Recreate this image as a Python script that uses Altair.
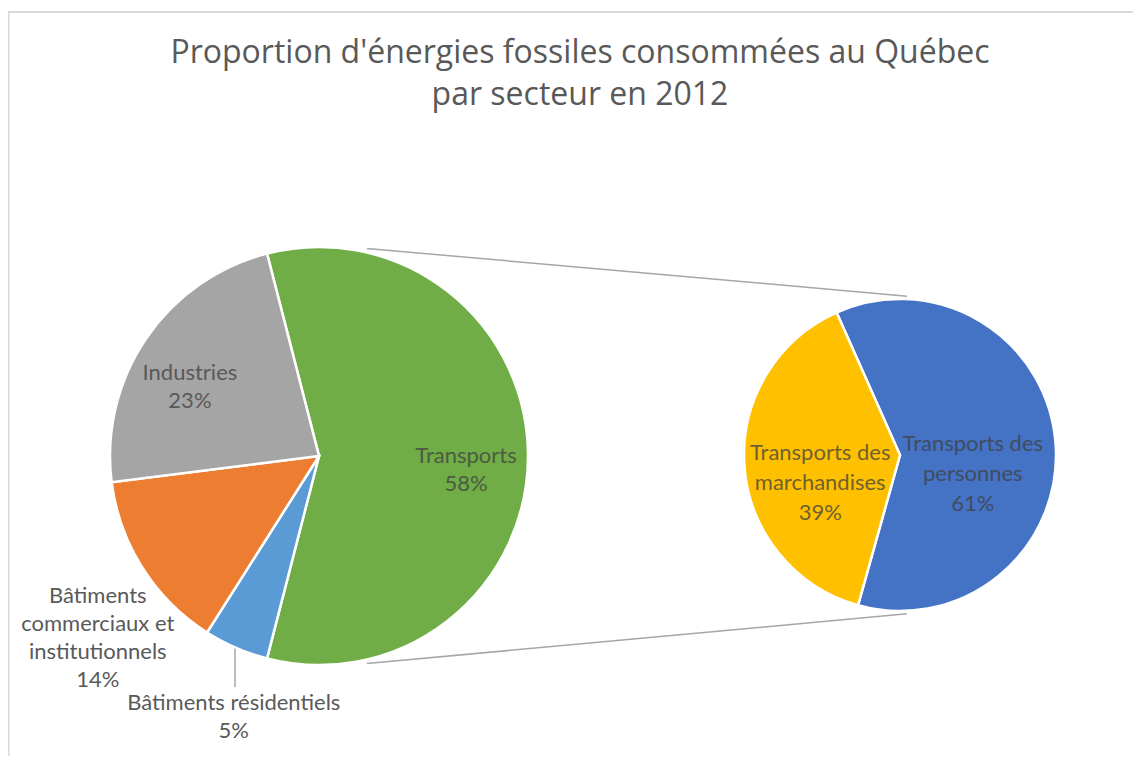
import math
import json
import altair as alt
import pandas as pd

# ---------------- data ----------------
TITLE_1 = "Proportion d'énergies fossiles consommées au Québec"
TITLE_2 = "par secteur en 2012"

left_names = ["Transports", "Bâtiments résidentiels",
              "Bâtiments commerciaux et institutionnels", "Industries"]
left_label_lines = ["Transports", "Bâtiments résidentiels",
                    "Bâtiments\ncommerciaux et\ninstitutionnels", "Industries"]
left_values = [58, 5, 14, 23]
left_colors = ["#70AD47", "#5B9BD5", "#ED7D31", "#A5A5A5"]

right_names = ["Transports des personnes", "Transports des marchandises"]
right_label_lines = ["Transports des\npersonnes", "Transports des\nmarchandises"]
right_values = [61, 39]
right_colors = ["#4472C4", "#FFC000"]

# ---------------- layout (pixels in plot area) ----------------
W, H = 1125, 748
FONT = "Lato"
TITLE_FONT = "Open Sans"
TITLE_SIZE = 32
LABEL_SIZE = 22
INSIDE = "#404040"
OUTSIDE = "#595959"
LINE = "#A6A6A6"

L = dict(cx=311, cy=448, r=209, start=math.radians(-14.4), lh=28)
R = dict(cx=892, cy=447, r=156, start=math.radians(-24), lh=30)

# name -> (radius, dx, dy, color, opacity); anchor = first text line
left_label_layout = {
    "Transports": (147, 0, 0, INSIDE, 0.75),
    "Industries": (150, -5, 1, INSIDE, 0.75),
    "Bâtiments commerciaux et institutionnels": (262, 0, 0, OUTSIDE, 1),
    "Bâtiments résidentiels": (275, 24, -5, OUTSIDE, 1),
}
right_label_layout = {
    "Transports des personnes": (75, -2, -6, INSIDE, 0.75),
    "Transports des marchandises": (80, 0, -8, INSIDE, 0.75),
}


def make_df(names, lines, values, colors):
    return pd.DataFrame({
        "name": names,
        "text": [f"{l}\n{v}%" for l, v in zip(lines, values)],
        "value": values,
        "color": colors,
        "ord": list(range(len(names))),
    })


def pie(df, geo, layout):
    theta = alt.Theta("value:Q", stack=True,
                      scale=alt.Scale(range=[geo["start"], geo["start"] + 2 * math.pi]))
    order = alt.Order("ord:Q")
    arcs = alt.Chart(df).mark_arc(
        radius=geo["r"], stroke="white", strokeWidth=2.5
    ).encode(
        x=alt.value(geo["cx"]), y=alt.value(geo["cy"]),
        theta=theta, order=order,
        color=alt.Color("color:N", scale=None),
    )
    layers = [arcs]
    for name, (rad, dx, dy, col, op) in layout.items():
        t = alt.Chart(df).transform_calculate(
            t=f"datum.name == {json.dumps(name)} ? datum.text : ''"
        ).mark_text(
            radius=rad, dx=dx, dy=dy, font=FONT, fontSize=LABEL_SIZE,
            lineHeight=geo["lh"], lineBreak="\n", align="center",
            baseline="middle", color=col, opacity=op,
        ).encode(
            x=alt.value(geo["cx"]), y=alt.value(geo["cy"]),
            theta=theta, order=order, text="t:N",
        )
        layers.append(t)
    return alt.layer(*layers)


one = pd.DataFrame({"k": [0]})


def pt(geo, ang_deg, rr):
    a = math.radians(ang_deg)
    return geo["cx"] + rr * math.sin(a), geo["cy"] - rr * math.cos(a)


def rule(p1, p2, color=LINE, width=1.5):
    return alt.Chart(one).mark_rule(color=color, strokeWidth=width).encode(
        x=alt.value(p1[0]), y=alt.value(p1[1]),
        x2=alt.value(p2[0]), y2=alt.value(p2[1]),
    )


# connectors between the pies
c_top = rule(pt(L, 13, 213), pt(R, 2.5, 159))
c_bot = rule(pt(L, 167, 213), pt(R, 177.5, 159))
# leader line for the residential label
leader = rule((227, 640), (227, 679))
# frame (top + left edges)
frame_top = rule((0, 4), (W, 4), color="#D9D9D9", width=2)
frame_left = rule((0.5, 4), (0.5, H), color="#D9D9D9", width=2)


def title_text(txt, y):
    return alt.Chart(one).mark_text(
        font=TITLE_FONT, fontSize=TITLE_SIZE, color="#595959", align="center",
        baseline="alphabetic",
    ).encode(x=alt.value(572), y=alt.value(y), text=alt.value(txt))


left_pie = pie(make_df(left_names, left_label_lines, left_values, left_colors),
               L, left_label_layout)
right_pie = pie(make_df(right_names, right_label_lines, right_values, right_colors),
                R, right_label_layout)

chart = alt.layer(
    frame_top, frame_left, c_top, c_bot, leader,
    title_text(TITLE_1, 55), title_text(TITLE_2, 97),
    left_pie, right_pie,
).resolve_scale(theta="independent").properties(
    width=W, height=H, padding=0, autosize="none"
).configure_view(stroke=None)

chart.save("out.html", embed_options={"renderer": "svg", "actions": False})
